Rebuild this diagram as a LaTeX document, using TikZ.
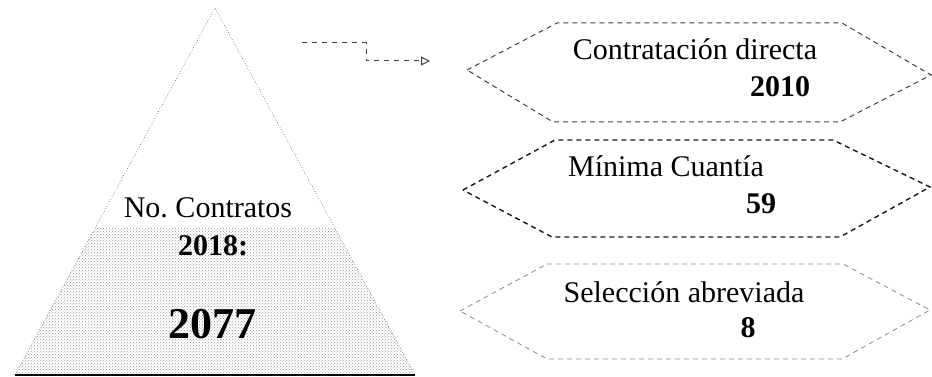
\documentclass[tikz,border=0pt]{standalone}
\usepackage{fontspec}
\setmainfont{Liberation Serif}
\usetikzlibrary{patterns,arrows.meta}

\begin{document}
\begin{tikzpicture}[x=1pt, y=-1pt,
	hexline/.style={line width=1pt, dash pattern=on 5pt off 4pt},
	labeltext/.style={inner sep=0pt, anchor=base, font=\fontsize{30}{36}\selectfont},
	numtext/.style={inner sep=0pt, anchor=base, font=\fontsize{30}{36}\selectfont\bfseries}]
			%%%%% START %%%%%
			\useasboundingbox (0, 0) rectangle (932, 377);
			
			\coordinate (apex) at (215, 8);
			\coordinate (baseL) at (15, 375);
			\coordinate (baseR) at (415, 375);
			
			\begin{scope}
				\clip (apex) -- (baseL) -- (baseR) -- cycle;
				\fill[pattern=crosshatch dots, pattern color=black!40] (0, 228) rectangle (420, 377);
			\end{scope}
			\draw[dotted, line width=0.7pt, color=black!55] (baseL) -- (apex) -- (baseR);
			\draw[line width=1.8pt, color=black] (baseL) -- (baseR);
			
			\node[labeltext] (contratos) at (208, 218) {No.\ Contratos};
			\node[numtext] (year) at (213, 255) {2018:};
			\node[numtext, font=\fontsize{44}{50}\selectfont\bfseries] (total) at (212, 338) {2077};
			
			\coordinate (arrowtail) at (302, 43);
			\coordinate (arrowbend) at (366, 61);
			\coordinate (arrowtip) at (430, 61);
			\draw[line width=1pt, color=black!75, dash pattern=on 5pt off 5pt,
				-{Triangle[open, length=9pt, width=9pt]}] (arrowtail) -| (arrowbend) -- (arrowtip);
			
			\draw[hexline, color=black!75] (467, 70) -- (557, 23) -- (842, 23) -- (931, 75) -- (840, 122) -- (553, 122) -- cycle;
			\node[labeltext] (directa) at (695, 60) {Contratación directa};
			\node[numtext] (directanum) at (780, 97) {2010};
			
			\draw[hexline, line width=1.4pt, color=black!90] (463, 190) -- (555, 140) -- (833, 140) -- (930, 187) -- (840, 237) -- (552, 237) -- cycle;
			\node[labeltext] (minima) at (666, 177) {Mínima Cuantía};
			\node[numtext] (minimanum) at (761, 213) {59};
			
			\draw[hexline, line width=0.8pt, color=black!45] (460, 311) -- (547, 264) -- (843, 264) -- (930, 310) -- (842, 359) -- (547, 359) -- cycle;
			\node[labeltext] (seleccion) at (684, 302) {Selección abreviada};
			\node[numtext] (seleccionnum) at (748, 337) {8};
			
			%%%%% END %%%%%
\end{tikzpicture}
\end{document}
